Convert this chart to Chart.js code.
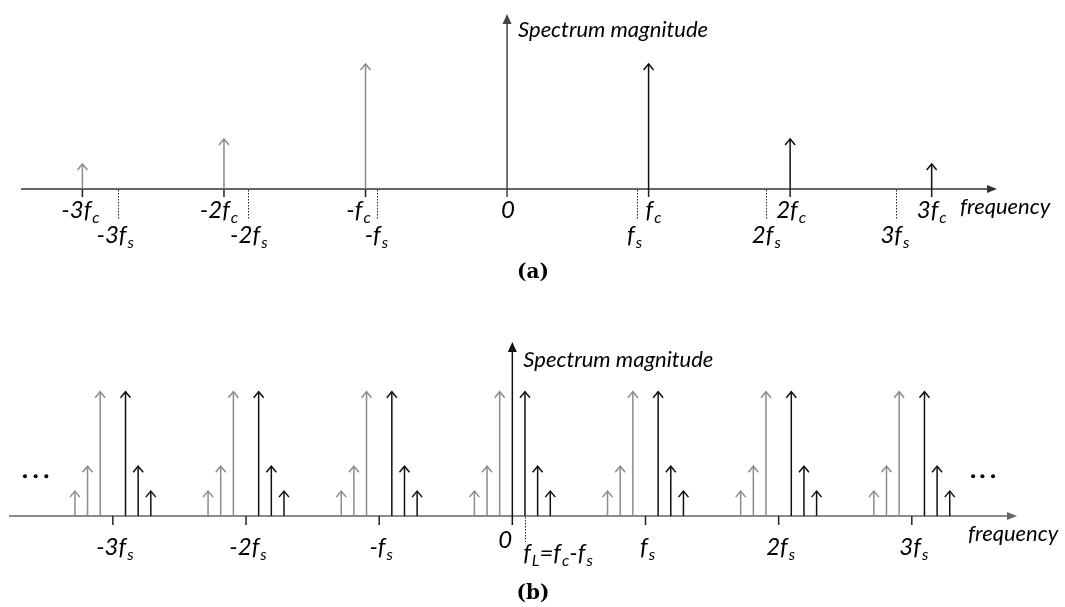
<!DOCTYPE html>
<html>
<head>
<meta charset="utf-8">
<script src="https://cdn.jsdelivr.net/npm/chart.js@4.4.1/dist/chart.umd.min.js"></script>
<style>
  html, body { margin: 0; padding: 0; background: #fff; }
  #wrap { position: relative; width: 1065px; height: 607px; overflow: hidden; }
  #wrap canvas { position: absolute; left: 0; }
  #chartA { top: 0; }
  #chartB { top: 300px; }
</style>
</head>
<body>
<div id="wrap">
  <canvas id="chartA" width="1065" height="300"></canvas>
  <canvas id="chartB" width="1065" height="307"></canvas>
</div>
<script>
// all frequencies are in units of fs
const magnitudes = [1, 0.4, 0.2];            // fundamental, 2nd, 3rd harmonic
const yTop = 1.4;                            // top of the magnitude axis

// ---- panel (a): spectrum before sampling
const aHarmonics = [1.092, 2.184, 3.276];    // fc, 2fc, 3fc
const aSampling = [-3, -2, -1, 1, 2, 3];     // multiples of fs (dotted marks)
const aRange = [-3.75, 3.78];
const aFcTicks = [-3.276, -2.184, -1.092, 1.092, 2.184, 3.276];
const aFcLabels = ['-3f_c', '-2f_c', '-f_c', 'f_c', '2f_c', '3f_c'];
const aFsLabels = ['-3f_s', '-2f_s', '-f_s', 'f_s', '2f_s', '3f_s'];

// ---- panel (b): spectrum after sampling
const bCenters = [-3, -2, -1, 0, 1, 2, 3];   // k*fs
const bUpper = [0.095, 0.19, 0.285];         // fL, 2fL, 3fL  (black)
const bLower = [-0.095, -0.19, -0.285];      // mirrored images (gray)
const bRange = [-3.78, 3.79];
const bTickLabels = ['-3f_s', '-2f_s', '-f_s', '', 'f_s', '2f_s', '3f_s'];
const fL = 0.095;
const ellipsisX = [-3.66, -3.58, -3.50, 3.46, 3.53, 3.61];
const ellipsisY = [0.32, 0.32, 0.32, 0.32, 0.32, 0.32];

const GRAY = '#8c8c8c';
const BLACK = '#111';

function stems(xs, hs) {
  const out = [];
  xs.forEach((v, i) => {
    out.push({x: v, y: 0}, {x: v, y: hs[i]}, {x: v, y: null});
  });
  return out;
}

function stemSet(data, color) {
  return {
    data: data, borderColor: color, borderWidth: 1.5, pointRadius: 0,
    spanGaps: false, clip: false, arrowHeads: true
  };
}

// rich label: "_x" means subscript x, everything italic
function drawRich(ctx, str, x, y, size, align) {
  const parts = [];
  str.split(/(_\w)/).forEach(p => {
    if (!p) return;
    if (p[0] === '_') parts.push({t: p.slice(1), sub: true});
    else parts.push({t: p, sub: false});
  });
  const mainFont = 'italic ' + size + 'px Lato';
  const subFont = 'italic ' + Math.round(size * 0.68) + 'px Lato';
  let w = 0;
  parts.forEach(p => {
    ctx.font = p.sub ? subFont : mainFont;
    p.w = ctx.measureText(p.t).width + (p.sub ? 1 : 0);
    w += p.w;
  });
  let cx = align === 'center' ? x - w / 2 : x;
  ctx.textAlign = 'left';
  ctx.textBaseline = 'alphabetic';
  parts.forEach(p => {
    ctx.font = p.sub ? subFont : mainFont;
    ctx.fillText(p.t, cx + (p.sub ? 1 : 0), p.sub ? y + size * 0.2 : y);
    cx += p.w;
  });
}

function seg(ctx, x1, y1, x2, y2) {
  ctx.beginPath(); ctx.moveTo(x1, y1); ctx.lineTo(x2, y2); ctx.stroke();
}

/** ---------------- axes, marks and labels ---------------- **/
const spectrumDecor = {
  id: 'spectrumDecor',
  beforeDatasetsDraw(chart, args, o) {
    const ctx = chart.ctx, a = chart.chartArea;
    const xs = chart.scales.x, ys = chart.scales.y;
    const x0 = xs.getPixelForValue(0), y0 = ys.getPixelForValue(0);
    ctx.save();
    ctx.lineWidth = 1.5;
    // frequency axis
    ctx.strokeStyle = o.hColor; ctx.fillStyle = o.hColor;
    seg(ctx, a.left, y0, a.right - 8, y0);
    ctx.beginPath();
    ctx.moveTo(a.right, y0); ctx.lineTo(a.right - 10, y0 - 4); ctx.lineTo(a.right - 10, y0 + 4);
    ctx.closePath(); ctx.fill();
    // magnitude axis
    ctx.strokeStyle = o.vColor; ctx.fillStyle = o.vColor;
    seg(ctx, x0, y0 + o.tickLen, x0, a.top + 8);
    ctx.beginPath();
    ctx.moveTo(x0, a.top); ctx.lineTo(x0 - 4.5, a.top + 10); ctx.lineTo(x0 + 4.5, a.top + 10);
    ctx.closePath(); ctx.fill();
    // solid ticks below the axis
    ctx.strokeStyle = o.tickColor;
    o.ticks.forEach(v => {
      const px = xs.getPixelForValue(v);
      seg(ctx, px, y0, px, y0 + o.tickLen);
    });
    // dotted marks
    ctx.lineWidth = 1;
    ctx.setLineDash([1.5, 1.5]);
    ctx.strokeStyle = '#222';
    o.dotted.forEach(v => {
      const px = Math.round(xs.getPixelForValue(v)) + 0.5;
      seg(ctx, px, y0 + 1, px, y0 + o.dottedLen);
    });
    ctx.restore();
  },
  afterDatasetsDraw(chart, args, o) {
    const ctx = chart.ctx, a = chart.chartArea;
    const xs = chart.scales.x, ys = chart.scales.y;
    const x0 = xs.getPixelForValue(0), y0 = ys.getPixelForValue(0);
    ctx.save();
    // open arrow heads on the stems
    chart.data.datasets.forEach((ds, i) => {
      if (!ds.arrowHeads) return;
      const meta = chart.getDatasetMeta(i);
      ctx.strokeStyle = ds.borderColor;
      ctx.lineWidth = 1.5;
      ds.data.forEach((d, j) => {
        if (d.y > 0) {
          const el = meta.data[j];
          ctx.beginPath();
          ctx.moveTo(el.x - 5, el.y + 6); ctx.lineTo(el.x, el.y); ctx.lineTo(el.x + 5, el.y + 6);
          ctx.stroke();
        }
      });
    });
    ctx.fillStyle = '#000';
    // tick labels
    o.labels.forEach(l => {
      drawRich(ctx, l.text, xs.getPixelForValue(l.v) + (l.dx || 0), y0 + l.base, 24, 'center');
    });
    // axis titles
    ctx.font = 'italic 22px Lato';
    ctx.textAlign = 'left';
    ctx.textBaseline = 'alphabetic';
    ctx.fillText('Spectrum magnitude', x0 + 11, a.top + o.titleDy);
    ctx.fillText('frequency', a.right + o.freqDx, y0 + 25);
    // caption
    ctx.font = 'bold 20px "DejaVu Serif"';
    ctx.textAlign = 'center';
    ctx.fillText(o.caption, 533, o.captionY);
    ctx.restore();
  }
};

function options(range, pad, decor) {
  return {
    responsive: false,
    animation: false,
    events: [],
    layout: { padding: pad },
    plugins: { legend: { display: false }, tooltip: { enabled: false }, spectrumDecor: decor },
    scales: {
      x: { type: 'linear', min: range[0], max: range[1], display: false },
      y: { type: 'linear', min: 0, max: yTop, display: false }
    }
  };
}

/** ---------------- panel (a) ---------------- **/
const aNeg = aHarmonics.map(v => -v);
const aLabels = [];
aFcTicks.forEach((v, i) => aLabels.push({ v: v, text: aFcLabels[i], base: 29, dx: [-2, -5, -7, 5, 1, 0][i] }));
aSampling.forEach((v, i) => aLabels.push({ v: v, text: aFsLabels[i], base: 54, dx: [-3, 1, -1, -2, 0, -1][i] }));
aLabels.push({ v: 0, text: '0', base: 29, dx: 1 });

new Chart(document.getElementById('chartA'), {
  type: 'line',
  data: {
    datasets: [
      stemSet(stems(aNeg, magnitudes), GRAY),
      stemSet(stems(aHarmonics, magnitudes), BLACK)
    ]
  },
  options: options(aRange, { left: 21, right: 68, top: 14, bottom: 111 }, {
    hColor: '#333', vColor: '#444', tickColor: '#222', tickLen: 8,
    ticks: aFcTicks, dotted: aSampling, dottedLen: 31,
    labels: aLabels, titleDy: 23, freqDx: -37, caption: '(a)', captionY: 278
  }),
  plugins: [spectrumDecor]
});

/** ---------------- panel (b) ---------------- **/
const bGrayX = [], bGrayH = [], bBlackX = [], bBlackH = [];
bCenters.forEach(c => {
  bLower.forEach((d, j) => { bGrayX.push(c + d); bGrayH.push(magnitudes[j]); });
  bUpper.forEach((d, j) => { bBlackX.push(c + d); bBlackH.push(magnitudes[j]); });
});
const bLabels = [];
bCenters.forEach((c, i) => { if (bTickLabels[i]) bLabels.push({ v: c, text: bTickLabels[i], base: 39, dx: 2 }); });
bLabels.push({ v: 0, text: '0', base: 32, dx: -7 });
bLabels.push({ v: fL, text: 'f_L=f_c-f_s', base: 45, dx: 33 });

new Chart(document.getElementById('chartB'), {
  type: 'line',
  data: {
    datasets: [
      stemSet(stems(bGrayX, bGrayH), GRAY),
      stemSet(stems(bBlackX, bBlackH), BLACK),
      {
        data: ellipsisX.map((v, i) => ({ x: v, y: ellipsisY[i] })),
        showLine: false, pointRadius: 2, pointBackgroundColor: '#000',
        pointBorderWidth: 0, clip: false
      }
    ]
  },
  options: options(bRange, { left: 9, right: 48, top: 42, bottom: 91 }, {
    hColor: '#666', vColor: '#111', tickColor: '#222', tickLen: 9,
    ticks: bCenters.filter(c => c !== 0), dotted: [fL], dottedLen: 26,
    labels: bLabels, titleDy: 25, freqDx: -49, caption: '(b)', captionY: 299
  }),
  plugins: [spectrumDecor]
});
</script>
</body>
</html>
